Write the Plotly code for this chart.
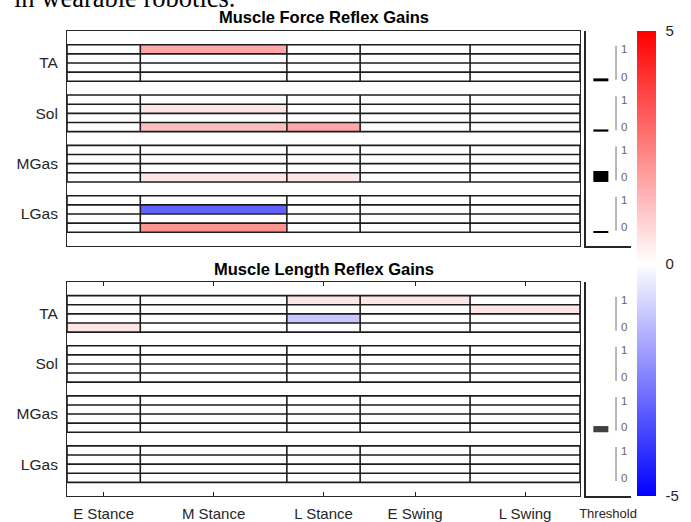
import plotly.graph_objects as go

W, H = 691, 522

# ---------------- data ----------------
phases = ["E Stance", "M Stance", "L Stance", "E Swing", "L Swing"]
phase_edges = [0, 2, 6, 8, 11, 14]          # relative phase durations 2:4:2:3:3
muscles = ["TA", "Sol", "MGas", "LGas"]

# gains per target muscle: 4 rows (top -> bottom) x 5 phases
force_TA   = [[0, 1.75, 0, 0, 0], [0, 0, 0, 0, 0], [0, 0, 0, 0, 0], [0, 0, 0, 0, 0]]
force_Sol  = [[0, 0, 0, 0, 0], [0, 0.5, 0, 0, 0], [0, 0, 0, 0, 0], [0, 1.25, 1.7, 0, 0]]
force_MGas = [[0, 0, 0, 0, 0], [0, 0, 0, 0, 0], [0, 0, 0, 0, 0], [0, 0.5, 0.5, 0, 0]]
force_LGas = [[0, 0, 0, 0, 0], [0, -3.1, 0, 0, 0], [0, 0, 0, 0, 0], [0, 2.1, 0, 0, 0]]

length_TA   = [[0, 0, 0.5, 0.5, 0], [0, 0, 0, 0, 0.5], [0, 0, -1.1, 0, 0], [0.5, 0, 0, 0, 0]]
length_Sol  = [[0, 0, 0, 0, 0], [0, 0, 0, 0, 0], [0, 0, 0, 0, 0], [0, 0, 0, 0, 0]]
length_MGas = [[0, 0, 0, 0, 0], [0, 0, 0, 0, 0], [0, 0, 0, 0, 0], [0, 0, 0, 0, 0]]
length_LGas = [[0, 0, 0, 0, 0], [0, 0, 0, 0, 0], [0, 0, 0, 0, 0], [0, 0, 0, 0, 0]]

force_threshold = [0.08, 0.06, 0.3, 0.03]
length_threshold = [0.0, 0.0, 0.17, 0.0]

force_gains = [force_TA, force_Sol, force_MGas, force_LGas]
length_gains = [length_TA, length_Sol, length_MGas, length_LGas]

# ---------------- layout geometry (in axis units) ----------------
ROWS = 4
PAD = 1.5
Y_MAX = len(muscles) * ROWS + (len(muscles) + 1) * PAD   # 23.5


def group_top(g):
    return Y_MAX - PAD - g * (ROWS + PAD)


def group_bottom(g):
    return group_top(g) - ROWS


def px(xp):
    return xp / W


def py(yp):
    return 1 - yp / H


FONT = "Liberation Sans, Arial, Helvetica, sans-serif"
TXT = "#262626"
EDGE = "#1c1c1c"

fig = go.Figure()

panels = [
    (force_gains, force_threshold, "x", "y", "x3", "y3", "black"),
    (length_gains, length_threshold, "x2", "y2", "x4", "y4", "#404040"),
]

for gains, thr, xa, ya, xt, yt, barcol in panels:
    gx, gy = [], []
    for g, rows in enumerate(gains):
        top, bot = group_top(g), group_bottom(g)
        y_edges = [bot + i for i in range(ROWS + 1)]
        z = list(reversed(rows))
        fig.add_trace(go.Heatmap(
            x=phase_edges, y=y_edges, z=z, coloraxis="coloraxis",
            xaxis=xa, yaxis=ya, hoverinfo="skip", zsmooth=False))
        # cell borders
        for ye in y_edges:
            gx += [phase_edges[0], phase_edges[-1], None]
            gy += [ye, ye, None]
        for xe in phase_edges:
            gx += [xe, xe, None]
            gy += [bot, top, None]
    fig.add_trace(go.Scatter(x=gx, y=gy, mode="lines", xaxis=xa, yaxis=ya,
                             line=dict(color=EDGE, width=1.6),
                             hoverinfo="skip", showlegend=False))

    # threshold panel
    fig.add_trace(go.Bar(x=[0.33] * len(muscles), y=[t * ROWS for t in thr],
                         base=[group_bottom(g) for g in range(len(muscles))],
                         width=0.334, marker=dict(color=barcol, line=dict(width=0)),
                         xaxis=xt, yaxis=yt, hoverinfo="skip", showlegend=False))
    sx, sy, tx, ty, tt = [], [], [], [], []
    for g in range(len(muscles)):
        bot = group_bottom(g)
        sx += [0.667, 0.667, None]
        sy += [bot + 0.04 * ROWS, bot + 0.97 * ROWS, None]
        tx += [0.85, 0.85]
        ty += [bot + 0.84 * ROWS, bot + 0.1 * ROWS]
        tt += ["1", "0"]
    fig.add_trace(go.Scatter(x=sx, y=sy, mode="lines", xaxis=xt, yaxis=yt,
                             line=dict(color="#9a9a9a", width=1.4),
                             hoverinfo="skip", showlegend=False))
    fig.add_trace(go.Scatter(x=tx, y=ty, mode="text", text=tt, xaxis=xt, yaxis=yt,
                             textfont=dict(family=FONT, size=11.5, color="#666666"),
                             hoverinfo="skip", showlegend=False))

group_centers = [(group_top(g) + group_bottom(g)) / 2 for g in range(len(muscles))]
phase_centers = [(phase_edges[i] + phase_edges[i + 1]) / 2 for i in range(len(phases))]

hm_dom = [px(67), px(580)]
th_dom = [px(586), px(631)]
top_dom = [py(246), py(31)]
bot_dom = [py(496), py(282)]

common_x = dict(range=[phase_edges[0], phase_edges[-1]], showgrid=False, zeroline=False,
                showline=True, mirror=True, linecolor=TXT, linewidth=1,
                automargin=False, fixedrange=True)
common_y = dict(range=[0, Y_MAX], showgrid=False, zeroline=False, showline=True,
                mirror=True, linecolor=TXT, linewidth=1, tickvals=group_centers,
                ticktext=muscles, ticks="", ticklabelstandoff=5,
                tickfont=dict(family=FONT, size=15.5, color=TXT), automargin=False)

fig.update_layout(
    template="none",
    width=W, height=H,
    margin=dict(l=0, r=0, t=0, b=0),
    paper_bgcolor="white", plot_bgcolor="rgba(0,0,0,0)",
    showlegend=False,
    font=dict(family=FONT, color=TXT),
    coloraxis=dict(
        colorscale=[[0, "rgb(0,0,255)"], [0.5, "rgb(255,255,255)"], [1, "rgb(255,0,0)"]],
        cmin=-5, cmax=5,
        colorbar=dict(x=px(637), xanchor="left", y=py(263.5), yanchor="middle",
                      thickness=19, thicknessmode="pixels", len=465, lenmode="pixels",
                      xpad=0, ypad=0, outlinewidth=0, tickvals=[-5, 0, 5],
                      ticktext=["-5", "0", "5"], ticks="outside", ticklen=7,
                      tickcolor="rgba(0,0,0,0)",
                      tickfont=dict(family=FONT, size=15, color=TXT))),
    xaxis=dict(domain=hm_dom, anchor="y", ticks="", showticklabels=False, **common_x),
    yaxis=dict(domain=top_dom, anchor="x", **common_y),
    xaxis2=dict(domain=hm_dom, anchor="y2", tickvals=phase_centers, ticktext=phases,
                ticks="inside", ticklen=4, tickcolor=TXT, ticklabelstandoff=4,
                tickfont=dict(family=FONT, size=15, color=TXT), **{**common_x, "mirror": "allticks"}),
    yaxis2=dict(domain=bot_dom, anchor="x2", **common_y),
    xaxis3=dict(domain=th_dom, anchor="y3", range=[0, 1], showgrid=False, zeroline=False,
                showline=True, linecolor=TXT, linewidth=1.5, ticks="", showticklabels=False,
                automargin=False),
    yaxis3=dict(domain=top_dom, anchor="x3", range=[0, Y_MAX], showgrid=False, zeroline=False,
                showline=True, linecolor=TXT, linewidth=2, ticks="", showticklabels=False,
                automargin=False),
    xaxis4=dict(domain=th_dom, anchor="y4", range=[0, 1], showgrid=False, zeroline=False,
                showline=True, linecolor=TXT, linewidth=1.5, ticks="", tickvals=[0.49],
                ticktext=["Threshold"], ticklabelstandoff=5,
                tickfont=dict(family=FONT, size=13, color=TXT), automargin=False),
    yaxis4=dict(domain=bot_dom, anchor="x4", range=[0, Y_MAX], showgrid=False, zeroline=False,
                showline=True, linecolor=TXT, linewidth=2, ticks="", showticklabels=False,
                automargin=False),
    annotations=[
        dict(text="<b>Muscle Force Reflex Gains</b>", xref="paper", yref="paper",
             x=(hm_dom[0] + hm_dom[1]) / 2, y=py(17), xanchor="center", yanchor="middle",
             showarrow=False, font=dict(family=FONT, size=16.5, color="black")),
        dict(text="<b>Muscle Length Reflex Gains</b>", xref="paper", yref="paper",
             x=(hm_dom[0] + hm_dom[1]) / 2, y=py(269), xanchor="center", yanchor="middle",
             showarrow=False, font=dict(family=FONT, size=16.5, color="black")),
        dict(text="in wearable robotics.", xref="paper", yref="paper",
             x=px(12), y=py(-2.5), xanchor="left", yanchor="middle",
             showarrow=False, font=dict(family="Liberation Serif, Times New Roman, serif",
                                        size=26.5, color="black")),
    ],
)

fig.write_html("out.html", config={"displayModeBar": False},
               post_script="document.body.style.margin='0';document.body.style.overflow='hidden';")
